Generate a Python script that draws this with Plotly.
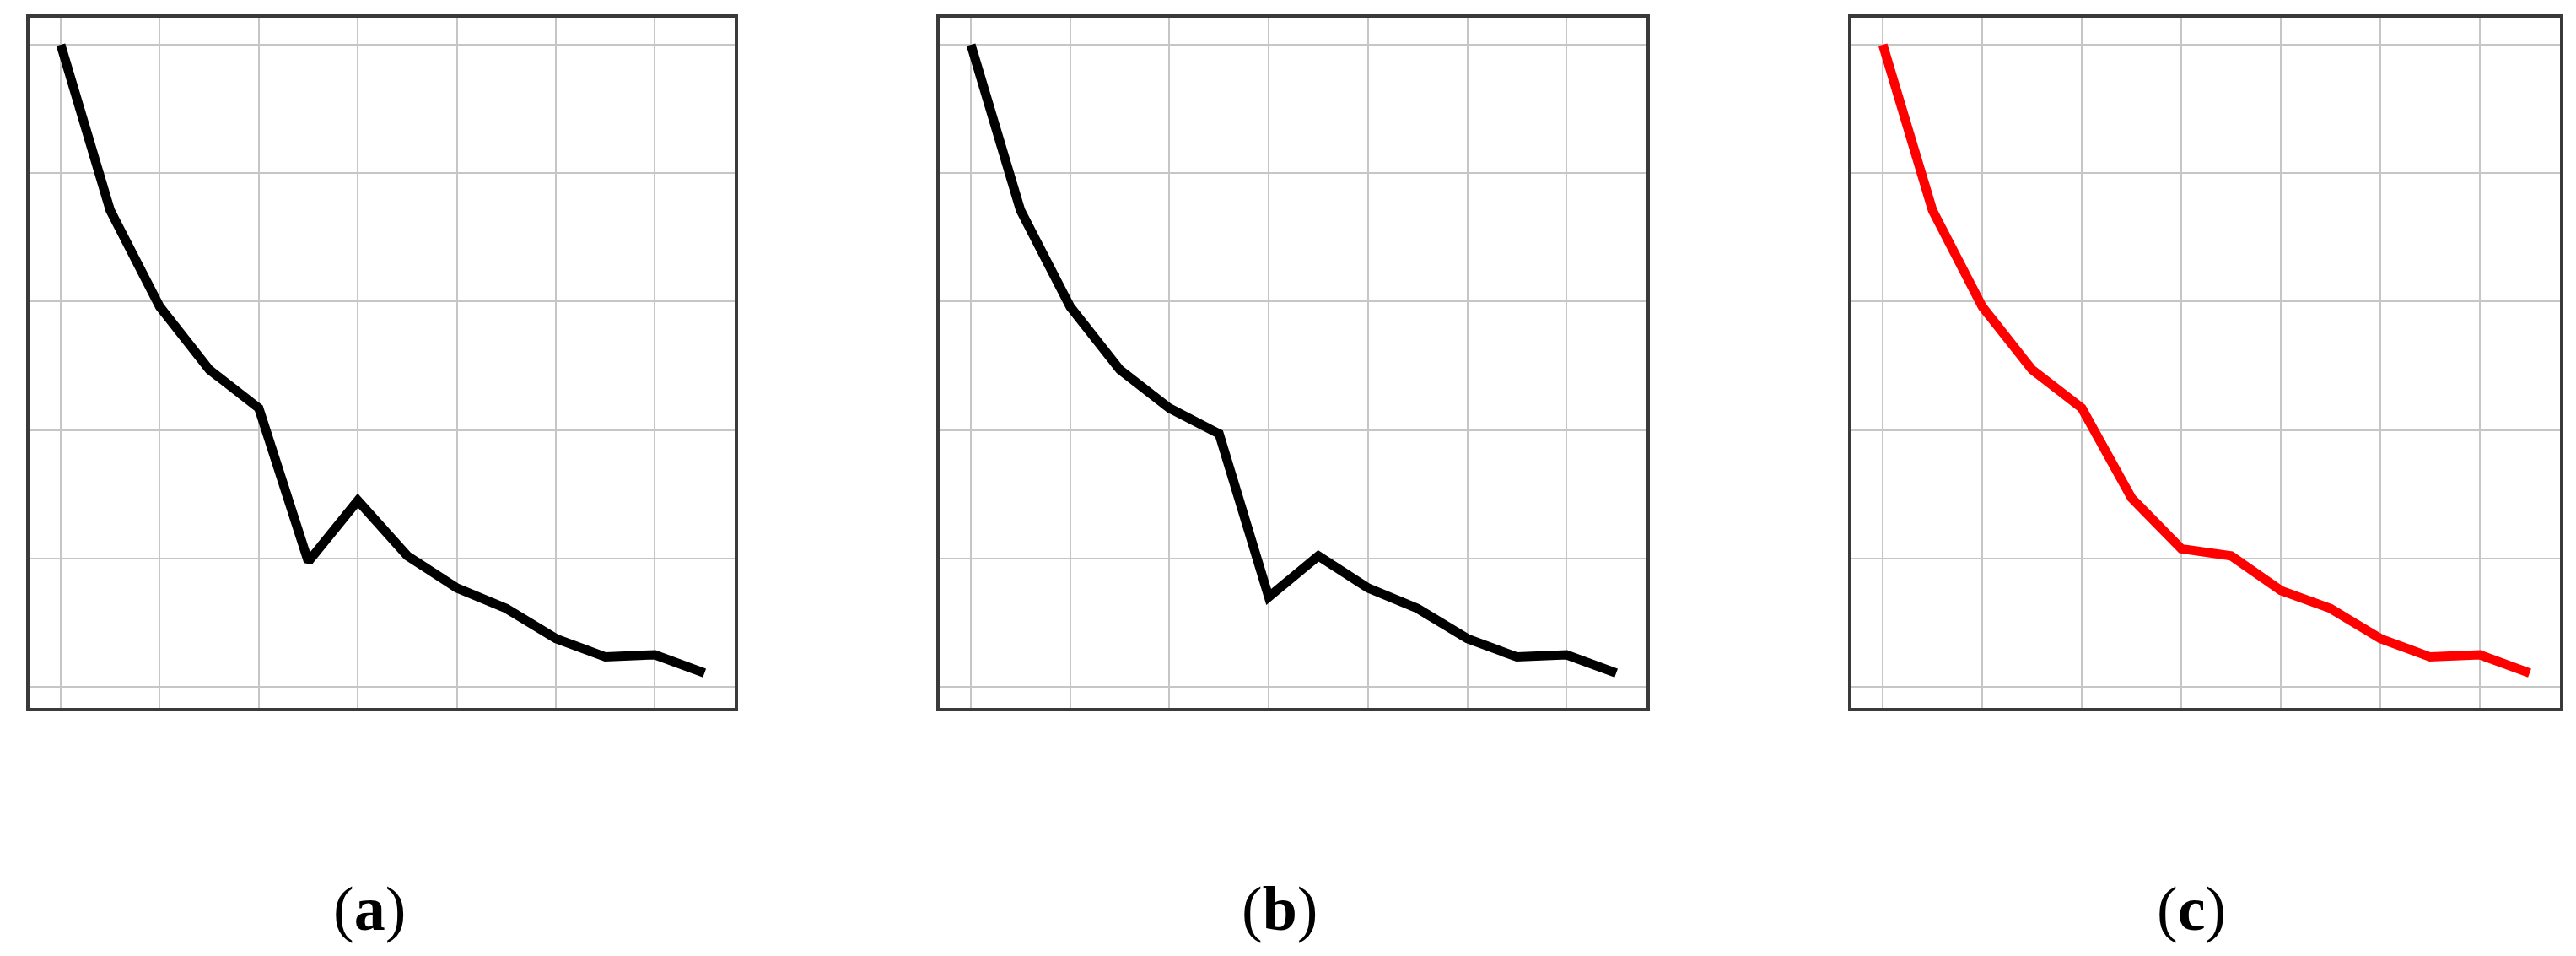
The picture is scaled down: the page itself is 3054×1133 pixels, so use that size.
import plotly.graph_objects as go

# step index along the x axis
steps = list(range(14))

# curve values (grid units 0..5)
loss_a = [5.0, 3.71, 2.96, 2.47, 2.17, 0.975, 1.45, 1.02, 0.77, 0.61, 0.376, 0.233, 0.25, 0.108]
loss_b = [5.0, 3.71, 2.96, 2.47, 2.17, 1.97, 0.70, 1.02, 0.77, 0.61, 0.376, 0.233, 0.25, 0.108]
loss_c = [5.0, 3.71, 2.96, 2.47, 2.17, 1.47, 1.075, 1.02, 0.75, 0.61, 0.376, 0.233, 0.25, 0.108]

panel_labels = ["(<b>a</b>)", "(<b>b</b>)", "(<b>c</b>)"]
colors = ["black", "black", "#ff0000"]

# page has an 8px body margin, so the figure is drawn 8px in from the corner
OFF = 8
W, H = 3054 - 2 * OFF, 1133 - 2 * OFF
px_x = [(35, 871), (1114, 1952), (2195, 3035)]
x_domains = [((a - OFF) / W, (b - OFF) / W) for a, b in px_x]
y_domain = (1 - (839 - OFF) / H, 1 - (21 - OFF) / H)
label_x = [(438 - OFF) / W, (1517 - OFF) / W, (2598 - OFF) / W]
label_y = 1 - (1077 - OFF) / H

fig = go.Figure()

for i, (ys, col) in enumerate(zip([loss_a, loss_b, loss_c], colors)):
    n = "" if i == 0 else str(i + 1)
    fig.add_trace(go.Scatter(
        x=steps, y=ys, mode="lines",
        line=dict(color=col, width=11),
        xaxis="x" + n, yaxis="y" + n, showlegend=False,
    ))
    axis_common = dict(
        showticklabels=False, ticks="", zeroline=False,
        showgrid=True, gridcolor="#c6c6c6", gridwidth=2,
        showline=True, linecolor="#3a3a3a", linewidth=3.5, mirror=True,
    )
    fig.layout["xaxis" + n] = dict(
        domain=list(x_domains[i]), anchor="y" + n,
        range=[-0.63, 13.61], tick0=0, dtick=2, **axis_common,
    )
    fig.layout["yaxis" + n] = dict(
        domain=list(y_domain), anchor="x" + n,
        range=[-0.164, 5.21], tick0=0, dtick=1, **axis_common,
    )
    fig.add_annotation(
        text=panel_labels[i], x=label_x[i], y=label_y,
        xref="paper", yref="paper", showarrow=False,
        xanchor="center", yanchor="middle",
        font=dict(family="Liberation Serif, Times New Roman, serif", size=74, color="black"),
    )

fig.update_layout(
    width=W, height=H,
    margin=dict(l=0, r=0, t=0, b=0),
    paper_bgcolor="white", plot_bgcolor="white",
)

fig.write_html("out.html")
